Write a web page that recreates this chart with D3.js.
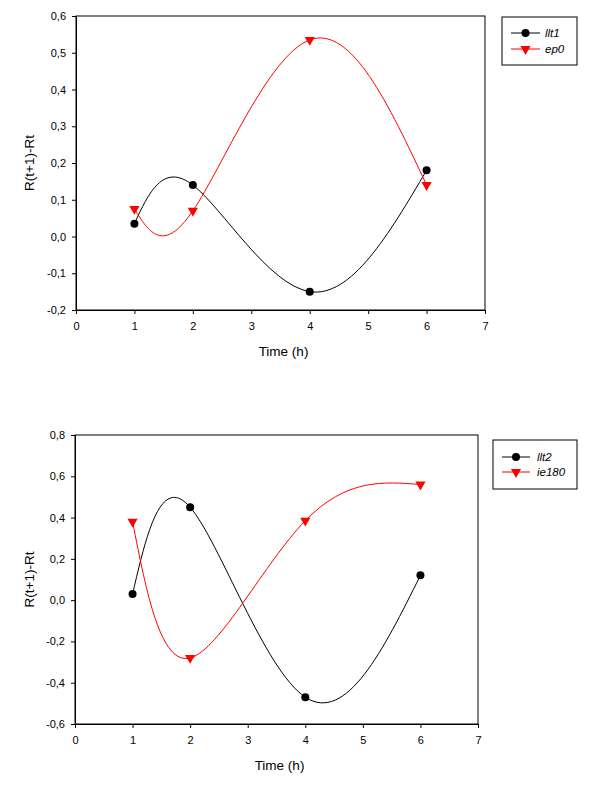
<!DOCTYPE html>
<html><head><meta charset="utf-8">
<script src="https://cdn.jsdelivr.net/npm/d3@7"></script>
<style>body{margin:0;background:#fff}svg{display:block}text{font-family:"Liberation Sans",Arial,sans-serif}</style>
</head><body>
<script>
const times = [1, 2, 4, 6];
const llt1 = [0.035, 0.14, -0.15, 0.18];
const ep0 = [0.075, 0.07, 0.535, 0.14];
const llt2 = [0.03, 0.45, -0.47, 0.12];
const ie180 = [0.38, -0.28, 0.385, 0.56];
const xTicks = [0, 1, 2, 3, 4, 5, 6, 7];
const yTicksTop = [-0.2, -0.1, 0, 0.1, 0.2, 0.3, 0.4, 0.5, 0.6];
const yTicksBottom = [-0.6, -0.4, -0.2, 0, 0.2, 0.4, 0.6, 0.8];
const legendTop = ["llt1", "ep0"];
const legendBottom = ["llt2", "ie180"];

const svg = d3.select("body").append("svg").attr("width", 600).attr("height", 793);

const fmt = v => d3.format(".1f")(v).replace(".", ",").replace("−", "-");

function drawPanel(cfg) {
  const g = svg.append("g");
  const x = d3.scaleLinear().domain([0, 7]).range([cfg.left, cfg.right]);
  const y = d3.scaleLinear().domain(cfg.yDomain).range([cfg.bottom, cfg.top]);

  g.append("rect").attr("x", cfg.left).attr("y", cfg.top)
    .attr("width", cfg.right - cfg.left).attr("height", cfg.bottom - cfg.top)
    .attr("fill", "none").attr("stroke", "#000").attr("stroke-width", 1);

  const xa = g.append("g").attr("transform", `translate(0,${cfg.bottom})`)
    .call(d3.axisBottom(x).tickValues(xTicks).tickSize(4).tickSizeOuter(0).tickFormat(d3.format("d")));
  const ya = g.append("g").attr("transform", `translate(${cfg.left},0)`)
    .call(d3.axisLeft(y).tickValues(cfg.yTicks).tickSize(4).tickSizeOuter(0).tickFormat(fmt));
  [xa, ya].forEach(a => {
    a.select(".domain").attr("stroke", "#000");
    a.selectAll(".tick line").attr("stroke", "#000");
    a.selectAll(".tick text").attr("font-size", 11).attr("fill", "#000")
      .style("font-family", '"Liberation Sans", Arial, sans-serif');
  });
  xa.selectAll(".tick text").attr("y", 12);
  ya.selectAll(".tick text").attr("x", -10);

  g.append("text").attr("x", (cfg.left + cfg.right) / 2 + 3).attr("y", cfg.bottom + 46)
    .attr("text-anchor", "middle").attr("font-size", 13.5).text("Time (h)");
  g.append("text").attr("transform", `translate(34,${(cfg.top + cfg.bottom) / 2}) rotate(-90)`)
    .attr("text-anchor", "middle").attr("font-size", 13.5).text("R(t+1)-Rt");

  const series = [
    { vals: cfg.s1, color: "#000", sym: "circle" },
    { vals: cfg.s2, color: "#ff0000", sym: "tri" }
  ];
  const line = d3.line().x(d => x(d[0])).y(d => y(d[1])).curve(d3.curveNatural);
  const tri = d3.symbol().type(d3.symbolTriangle).size(45);
  series.forEach(s => {
    const pts = times.map((t, i) => [t, s.vals[i]]);
    g.append("path").attr("d", line(pts)).attr("fill", "none").attr("stroke", s.color).attr("stroke-width", 1);
    pts.forEach(p => {
      if (s.sym === "circle") {
        g.append("circle").attr("cx", x(p[0])).attr("cy", y(p[1])).attr("r", 4).attr("fill", s.color);
      } else {
        g.append("path").attr("d", tri).attr("fill", s.color)
          .attr("transform", `translate(${x(p[0])},${y(p[1])}) rotate(180)`);
      }
    });
  });

  const L = cfg.legend;
  g.append("rect").attr("x", L.x).attr("y", L.y).attr("width", L.w).attr("height", L.h)
    .attr("fill", "#fff").attr("stroke", "#000").attr("stroke-width", 1);
  cfg.labels.forEach((lab, i) => {
    const ry = L.rows[i];
    const s = series[i];
    g.append("line").attr("x1", L.lx1).attr("x2", L.lx2).attr("y1", ry).attr("y2", ry)
      .attr("stroke", s.color).attr("stroke-width", 1);
    const mx = (L.lx1 + L.lx2) / 2;
    if (s.sym === "circle") g.append("circle").attr("cx", mx).attr("cy", ry).attr("r", 4).attr("fill", s.color);
    else g.append("path").attr("d", tri).attr("fill", s.color).attr("transform", `translate(${mx},${ry}) rotate(180)`);
    g.append("text").attr("x", L.tx).attr("y", ry + 4).attr("font-size", 11.5).attr("font-style", "italic").text(lab);
  });
}

drawPanel({
  left: 76, right: 485, top: 16, bottom: 310, yDomain: [-0.2, 0.6], yTicks: yTicksTop,
  s1: llt1, s2: ep0, labels: legendTop,
  legend: { x: 502, y: 17, w: 75, h: 48, rows: [33, 49], lx1: 511, lx2: 540, tx: 545 }
});
drawPanel({
  left: 75, right: 478, top: 435, bottom: 724, yDomain: [-0.6, 0.8], yTicks: yTicksBottom,
  s1: llt2, s2: ie180, labels: legendBottom,
  legend: { x: 493, y: 440, w: 84, h: 49, rows: [457, 472], lx1: 502, lx2: 530, tx: 537 }
});
</script>
</body></html>
